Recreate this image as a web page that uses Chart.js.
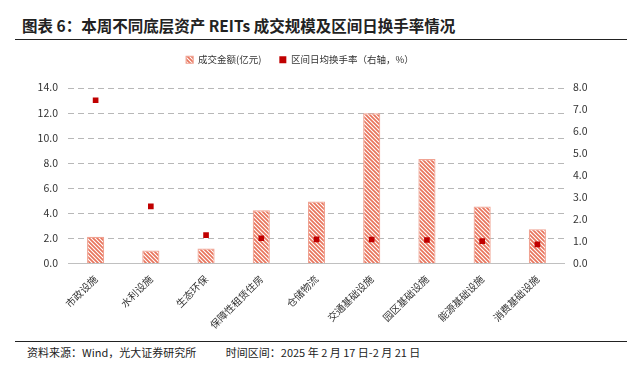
<!DOCTYPE html>
<html>
<head>
<meta charset="utf-8">
<script src="https://cdn.jsdelivr.net/npm/chart.js@4"></script>
<style>
  html, body { margin: 0; padding: 0; background: #fff; }
  body { width: 640px; height: 367px; position: relative; overflow: hidden;
         font-family: "Noto Sans CJK SC", "Noto Sans", sans-serif; color: #222; }
  #title { position: absolute; left: 22px; top: 14px; font-size: 15.5px; font-weight: bold; white-space: nowrap; }
  .rule { position: absolute; left: 15px; width: 612px; height: 0; border-top: 1.5px solid #222; }
  #foot { position: absolute; left: 27px; top: 344px; font-size: 11px; white-space: pre; color: #222; }
  #wrap { position: absolute; left: 0; top: 37px; width: 640px; height: 300px; }
</style>
</head>
<body>
<div id="title">图表 6：本周不同底层资产 REITs 成交规模及区间日换手率情况</div>
<div class="rule" style="top:39px"></div>
<div id="wrap"><canvas id="chart"></canvas></div>
<div class="rule" style="top:341px"></div>
<div id="foot">资料来源：Wind，光大证券研究所            时间区间：2025 年 2 月 17 日-2 月 21 日</div>
<script>
// 数据
const categorias = ['市政设施', '水利设施', '生态环保', '保障性租赁住房', '仓储物流', '交通基础设施', '园区基础设施', '能源基础设施', '消费基础设施'];
const montoOperado = [2.1, 1.0, 1.15, 4.2, 4.9, 11.95, 8.3, 4.5, 2.7];
const rotacionDiaria = [7.42, 2.58, 1.27, 1.13, 1.08, 1.07, 1.05, 1.0, 0.85];
const ticksIzq = [0, 14, 2];
const ticksDer = [0, 8, 1];

// patrón de rayas diagonales para las barras
function crearRayado() {
    const c = document.createElement('canvas');
    c.width = 4; c.height = 4;
    const g = c.getContext('2d');
    g.fillStyle = '#ffffff';
    g.fillRect(0, 0, 4, 4);
    g.strokeStyle = '#E8745C';
    g.lineWidth = 1.7;
    g.beginPath();
    g.moveTo(-1, -1); g.lineTo(5, 5);
    g.moveTo(-1, 3); g.lineTo(1, 5);
    g.moveTo(3, -1); g.lineTo(5, 1);
    g.stroke();
    return g.createPattern(c, 'repeat');
}

// espacio extra debajo de la leyenda
const margenLeyenda = {
    id: 'margenLeyenda',
    beforeInit(chart) {
        const fitOriginal = chart.legend.fit;
        chart.legend.fit = function () {
            fitOriginal.bind(chart.legend)();
            this.height += 13;
        };
    }
};

// cuadrícula punteada del eje izquierdo, dibujada antes de las barras
const cuadricula = {
    id: 'cuadricula',
    beforeDatasetsDraw(chart) {
        const ctx = chart.ctx;
        const area = chart.chartArea;
        const escala = chart.scales.y;
        ctx.save();
        ctx.lineWidth = 1;
        for (const t of escala.ticks) {
            const y = Math.round(escala.getPixelForValue(t.value)) + 0.5;
            ctx.beginPath();
            ctx.setLineDash(t.value === 0 ? [] : [6, 4]);
            ctx.strokeStyle = t.value === 0 ? '#C0C0C0' : '#B8B8B8';
            ctx.moveTo(area.left, y);
            ctx.lineTo(area.right, y);
            ctx.stroke();
        }
        ctx.restore();
    }
};

const fuente = { family: '"Noto Sans CJK SC", "Noto Sans", sans-serif', size: 10 };

new Chart(document.getElementById('chart'), {
    data: {
        labels: categorias,
        datasets: [{
            type: 'bar',
            label: '成交金额(亿元)',
            data: montoOperado,
            backgroundColor: crearRayado(),
            borderColor: '#F0A393',
            borderWidth: 1.2,
            barPercentage: 0.62,
            categoryPercentage: 0.5,
            yAxisID: 'y',
            order: 1,
            pointStyle: 'rect'
        }, {
            type: 'line',
            label: '区间日均换手率（右轴，%）',
            data: rotacionDiaria,
            showLine: false,
            pointStyle: 'rect',
            pointRadius: 4,
            pointBackgroundColor: '#C00000',
            pointBorderWidth: 0,
            backgroundColor: '#C00000',
            borderColor: '#C00000',
            yAxisID: 'y1',
            order: 0
        }]
    },
    options: {
        responsive: true,
        maintainAspectRatio: false,
        animation: false,
        layout: { padding: { left: 0, right: 40, top: 0, bottom: 0 } },
        plugins: {
            legend: {
                position: 'top',
                labels: {
                    sort: (a, b) => a.datasetIndex - b.datasetIndex,
                    usePointStyle: true,
                    boxWidth: 7,
                    boxHeight: 7,
                    padding: 18,
                    color: '#333',
                    font: { family: fuente.family, size: 9.5 }
                }
            },
            tooltip: { enabled: false }
        },
        scales: {
            x: {
                grid: { display: false },
                border: { display: false },
                ticks: { color: '#333', font: fuente, maxRotation: 45, minRotation: 45, padding: 2 },
                afterFit: s => { s.height = 74; }
            },
            y: {
                position: 'left',
                min: ticksIzq[0], max: ticksIzq[1],
                ticks: { stepSize: ticksIzq[2], color: '#333', font: { family: fuente.family, size: 10.5 }, padding: 10,
                         callback: v => v.toFixed(1) },
                grid: { display: false, drawTicks: false },
                border: { display: false },
                afterFit: s => { s.width = 68; }
            },
            y1: {
                position: 'right',
                min: ticksDer[0], max: ticksDer[1],
                ticks: { stepSize: ticksDer[2], color: '#333', font: { family: fuente.family, size: 10.5 }, padding: 8,
                         callback: v => v.toFixed(1) },
                grid: { display: false, drawTicks: false },
                border: { display: false },
                afterFit: s => { s.width = 35; }
            }
        }
    },
    plugins: [margenLeyenda, cuadricula]
});
</script>
</body>
</html>
